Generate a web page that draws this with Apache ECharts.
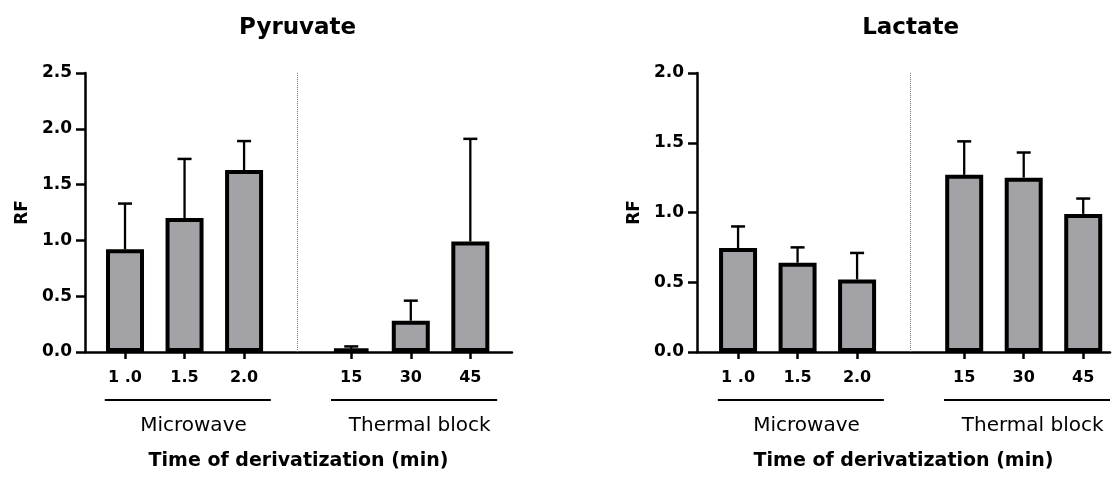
<!DOCTYPE html>
<html><head><meta charset="utf-8">
<script src="https://cdn.jsdelivr.net/npm/echarts@6/dist/echarts.min.js"></script>
<style>html,body{margin:0;padding:0;background:#fff}#c{width:1113px;height:477px}</style>
</head><body><div id="c"></div>
<script>
const timeLabels = ['1 .0', '1.5', '2.0', '15', '30', '45'];
const groupNames = ['Microwave', 'Thermal block'];
const panelTitles = ['Pyruvate', 'Lactate'];
const pyruvateMean = [0.92, 1.20, 1.63, 0.03, 0.28, 0.99];
const pyruvateUpper = [1.33, 1.73, 1.89, 0.05, 0.46, 1.91];
const lactateMean = [0.745, 0.64, 0.52, 1.27, 1.25, 0.99];
const lactateUpper = [0.90, 0.75, 0.71, 1.51, 1.43, 1.10];
const yMaxes = [2.5, 2.0];
const xAxisTitle = 'Time of derivatization (min)';

const FONT = 'DejaVu Sans';
const GROUP_GAP = 0.8;
const positions = timeLabels.map((_, i) => i + (i >= 3 ? GROUP_GAP : 0));
const divider = (positions[2] + positions[3]) / 2;
const means = [pyruvateMean, lactateMean];
const uppers = [pyruvateUpper, lactateUpper];

const grids = [
  {left: 85, top: 73, width: 427, height: 279},
  {left: 697, top: 73, width: 413, height: 279}
];
const xRanges = [[-0.672, 6.5], [-0.69, 6.25]];

function labelFor(v) {
  const i = positions.findIndex(p => Math.abs(p - v) < 1e-6);
  return i >= 0 ? timeLabels[i] : '';
}

const xAxes = [0, 1].map(g => ({
  type: 'value', gridIndex: g, min: xRanges[g][0], max: xRanges[g][1],
  axisLine: {show: true, onZero: false, lineStyle: {color: '#000', width: 2.5}},
  splitLine: {show: false},
  axisTick: {show: true, customValues: positions, length: 7, lineStyle: {color: '#000', width: 2.5}},
  axisLabel: {customValues: positions, formatter: labelFor, margin: 18,
    fontFamily: FONT, fontWeight: 'bold', fontSize: 16, color: '#000'},
  name: xAxisTitle, nameLocation: 'middle', nameGap: 100,
  nameTextStyle: {fontFamily: FONT, fontWeight: 'bold', fontSize: 19, color: '#000'}
}));

const yAxes = [0, 1].map(g => ({
  type: 'value', gridIndex: g, min: 0, max: yMaxes[g], interval: 0.5,
  axisLine: {show: true, onZero: false, lineStyle: {color: '#000', width: 2.5}},
  splitLine: {show: false},
  axisTick: {show: true, length: 9, lineStyle: {color: '#000', width: 2.5}},
  axisLabel: {formatter: v => v.toFixed(1), margin: 13,
    fontFamily: FONT, fontWeight: 'bold', fontSize: 17, color: '#000'},
  name: 'RF', nameLocation: 'middle', nameRotate: 90, nameGap: 54,
  nameTextStyle: {fontFamily: FONT, fontWeight: 'bold', fontSize: 17, color: '#000'}
}));

const series = [];
[0, 1].forEach(g => {
  series.push({
    type: 'custom', xAxisIndex: g, yAxisIndex: g, z: 1,
    data: positions.map((p, i) => [p, means[g][i], uppers[g][i]]),
    encode: {x: 0, y: [1, 2]},
    renderItem: (params, api) => {
      const x = api.value(0);
      const p0 = api.coord([x, api.value(1)]);
      const p1 = api.coord([x, api.value(2)]);
      return {type: 'group', children: [
        {type: 'line', shape: {x1: p0[0], y1: p0[1], x2: p1[0], y2: p1[1]}, style: {stroke: '#000', lineWidth: 2.3}},
        {type: 'line', shape: {x1: p1[0] - 7, y1: p1[1], x2: p1[0] + 7, y2: p1[1]}, style: {stroke: '#000', lineWidth: 2.5}}
      ]};
    },
    markLine: {
      silent: true, symbol: 'none', label: {show: false},
      lineStyle: {type: 'dotted', color: '#777', width: 1},
      data: [{xAxis: divider}]
    }
  });
  series.push({
    type: 'bar', xAxisIndex: g, yAxisIndex: g, z: 2,
    barWidth: 38,
    data: positions.map((p, i) => [p, means[g][i]]),
    itemStyle: {color: '#a3a3a7', borderColor: '#000', borderWidth: 4}
  });
});

const chart = echarts.init(document.getElementById('c'), null, {renderer: 'canvas'});
chart.setOption({
  animation: false,
  backgroundColor: '#fff',
  grid: grids,
  xAxis: xAxes,
  yAxis: yAxes,
  series: series
});

// group brackets and titles, positioned through the axes
const graphics = [];
[0, 1].forEach(g => {
  const gridBottom = grids[g].top + grids[g].height;
  const titleX = chart.convertToPixel({xAxisIndex: g}, divider);
  graphics.push({type: 'text', x: titleX, y: 28,
    style: {text: panelTitles[g], font: 'bold 23px "DejaVu Sans"', fill: '#000', textAlign: 'center', textVerticalAlign: 'middle'}});
  [[0, 2], [3, 5]].forEach((idx, k) => {
    const a = chart.convertToPixel({xAxisIndex: g}, positions[idx[0]] - 0.34);
    const b = chart.convertToPixel({xAxisIndex: g}, positions[idx[1]] + 0.45);
    const c = chart.convertToPixel({xAxisIndex: g}, positions[idx[0]] + 1.15);
    graphics.push({type: 'line', shape: {x1: a, y1: gridBottom + 48, x2: b, y2: gridBottom + 48},
      style: {stroke: '#000', lineWidth: 2}});
    graphics.push({type: 'text', x: c, y: gridBottom + 74,
      style: {text: groupNames[k], font: '20px "DejaVu Sans"', fill: '#000', textAlign: 'center', textVerticalAlign: 'middle'}});
  });
});
chart.setOption({graphic: graphics});
</script>
</body></html>
